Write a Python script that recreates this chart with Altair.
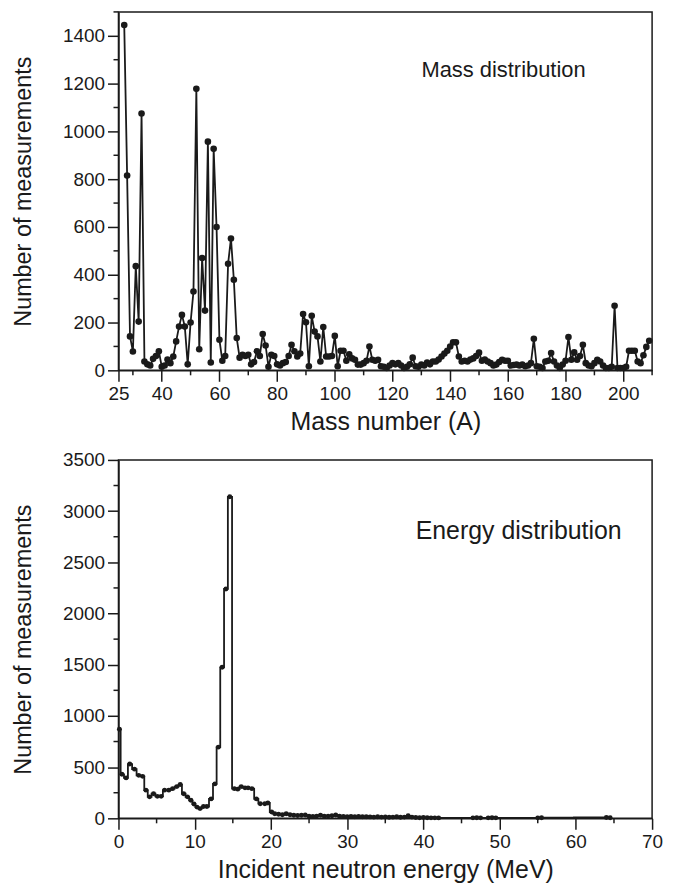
import altair as alt
import pandas as pd

# ---------------- data: mass distribution ----------------
mass_A = [27, 28, 29, 30, 31, 32, 33, 34, 35, 36, 37, 38, 39, 40, 41, 42, 43, 44, 45, 46,
          47, 48, 49, 50, 51, 52, 53, 54, 55, 56, 57, 58, 59, 60, 61, 62, 63, 64, 65, 66,
          67, 68, 69, 70, 71, 72, 73, 74, 75, 76, 77, 78, 79, 80, 81, 82, 83, 84, 85, 86,
          87, 88, 89, 90, 91, 92, 93, 94, 95, 96, 97, 98, 99, 100, 101, 102, 103, 104, 105, 106,
          107, 108, 109, 110, 111, 112, 113, 114, 115, 116, 117, 118, 119, 120, 121, 122, 123, 124, 125, 126,
          127, 128, 129, 130, 131, 132, 133, 134, 135, 136, 137, 138, 139, 140, 141, 142, 143, 144, 145, 146,
          147, 148, 149, 150, 151, 152, 153, 154, 155, 156, 157, 158, 159, 160, 161, 162, 163, 164, 165, 166,
          167, 168, 169, 170, 171, 172, 173, 174, 175, 176, 177, 178, 179, 180, 181, 182, 183, 184, 185, 186,
          187, 188, 189, 190, 191, 192, 193, 194, 195, 196, 197, 198, 199, 200, 201, 202, 203, 204, 205, 206,
          207, 208, 209]
mass_n = [1445, 815, 142, 79, 436, 204, 1075, 37, 25, 20, 48, 60, 80, 15, 20, 45, 30, 58, 121, 183,
          232, 183, 25, 200, 330, 1178, 88, 470, 250, 957, 33, 927, 600, 128, 40, 60, 446, 552, 379, 135,
          53, 65, 60, 65, 25, 35, 80, 60, 152, 104, 15, 65, 60, 25, 20, 30, 35, 60, 107, 80,
          58, 70, 236, 201, 17, 228, 162, 142, 37, 181, 58, 58, 60, 144, 17, 82, 82, 40, 67, 50,
          44, 24, 24, 30, 40, 100, 44, 40, 44, 17, 15, 10, 20, 30, 25, 30, 20, 10, 15, 25,
          53, 17, 15, 24, 20, 33, 25, 37, 37, 45, 58, 70, 82, 100, 117, 117, 58, 37, 40, 37,
          45, 50, 60, 74, 40, 45, 37, 30, 20, 24, 35, 44, 40, 40, 20, 22, 24, 20, 24, 17,
          20, 30, 132, 17, 15, 10, 37, 40, 72, 37, 20, 10, 24, 40, 139, 44, 75, 44, 60, 107,
          30, 20, 17, 30, 44, 37, 20, 10, 10, 15, 270, 10, 10, 10, 15, 82, 82, 82, 37, 30,
          63, 98, 124]

# ---------------- data: energy distribution ----------------
energy_E = [0.12, 0.45, 1.0, 1.48, 2.1, 2.65, 3.17, 3.6, 4.08, 4.6, 5.1, 5.6, 6.05, 6.6, 7.1,
            7.65, 8.1, 8.55, 9.05, 9.5, 9.9, 10.3, 10.7, 11.15, 11.6, 12.15, 12.65, 13.1, 13.6, 14.1,
            14.6, 15.2, 15.65, 16.1, 16.6, 17.0, 17.5, 18.1, 18.6, 19.2, 19.6, 20.1, 20.5, 21.0, 21.5,
            22.0, 22.5, 23.0, 23.5, 24.0, 24.5, 25.0, 25.5, 26.0, 26.5, 27.0, 27.5, 28.0, 28.5, 29.0,
            29.5, 30.0, 30.5, 31.0, 31.5, 32.0, 32.5, 33.0, 33.5, 34.0, 34.5, 35.0, 35.5, 36.0, 36.5,
            37.0, 37.5, 38.0, 38.5, 39.0, 39.5, 40.0, 40.5, 41.0, 41.5, 42.0, 46.5, 47.0, 47.5, 48.5,
            49.0, 49.5, 55.0, 55.5, 64.0, 64.5]
energy_n = [870, 430, 395, 530, 480, 420, 410, 275, 210, 240, 215, 215, 275, 275, 290,
            310, 330, 240, 210, 176, 140, 110, 95, 115, 115, 190, 336, 695, 1475, 2240,
            3140, 290, 285, 310, 298, 298, 290, 190, 143, 143, 150, 62, 45, 40, 35,
            45, 35, 30, 28, 30, 32, 20, 18, 22, 30, 20, 22, 25, 32, 20,
            18, 15, 18, 15, 18, 15, 16, 14, 12, 15, 12, 14, 10, 12, 15,
            10, 12, 25, 12, 8, 6, 8, 6, 5, 5, 4, 5, 6, 5, 5,
            6, 5, 5, 6, 8, 6]

# ---------------- axis ticks ----------------
mass_x_major = [25, 40, 60, 80, 100, 120, 140, 160, 180, 200]
mass_x_minor = [30, 50, 70, 90, 110, 130, 150, 170, 190, 210]
mass_y_major = [0, 200, 400, 600, 800, 1000, 1200, 1400]
mass_y_minor = [100, 300, 500, 700, 900, 1100, 1300, 1500]
en_x_major = [0, 10, 20, 30, 40, 50, 60, 70]
en_x_minor = [5, 15, 25, 35, 45, 55, 65]
en_y_major = [0, 500, 1000, 1500, 2000, 2500, 3000, 3500]
en_y_minor = [250, 750, 1250, 1750, 2250, 2750, 3250]

W = 536
H = 360
INK = "#1a1a1a"
FONT = "Liberation Sans"
MINOR = 5


def panel(df, xf, yf, xdom, ydom, xmaj, xmin, ymaj, ymin, xtitle, label, lx, ly,
          lsize, interp, psize):
    xs = alt.Scale(domain=xdom, nice=False, zero=False)
    ys = alt.Scale(domain=ydom, nice=False)
    xax = alt.Axis(values=xmaj, title=xtitle, labelFlush=False, format="d",
                   titleFontSize=25, titlePadding=6)
    yax = alt.Axis(values=ymaj, title="Number of measurements", format="d",
                   titleFontSize=23.5, titlePadding=27)
    base = alt.Chart(df)
    line = base.mark_line(color=INK, strokeWidth=1.8, interpolate=interp).encode(
        x=alt.X(f"{xf}:Q", scale=xs, axis=xax),
        y=alt.Y(f"{yf}:Q", scale=ys, axis=yax),
    )
    pts = base.mark_circle(color=INK, size=psize, opacity=1).encode(
        x=alt.X(f"{xf}:Q", scale=xs, axis=xax),
        y=alt.Y(f"{yf}:Q", scale=ys, axis=yax))
    xminor = alt.Chart(pd.DataFrame({"v": xmin})).mark_rule(
        color=INK, strokeWidth=1.5).encode(
        x=alt.X("v:Q", scale=xs, axis=xax),
        y=alt.value(H), y2=alt.value(H + MINOR))
    yminor = alt.Chart(pd.DataFrame({"v": ymin})).mark_rule(
        color=INK, strokeWidth=1.5).encode(
        y=alt.Y("v:Q", scale=ys, axis=yax),
        x=alt.value(-MINOR), x2=alt.value(0))
    txt = alt.Chart(pd.DataFrame({"t": [label]})).mark_text(
        font=FONT, fontSize=lsize, color=INK, align="center", baseline="middle").encode(
        x=alt.datum(lx), y=alt.datum(ly), text="t:N")
    return alt.layer(line, pts, xminor, yminor, txt).properties(
        width=W, height=H,
        view=alt.ViewBackground(stroke=INK, strokeWidth=1.5))


mass_df = pd.DataFrame({"A": mass_A, "n": mass_n})
en_df = pd.DataFrame({"E": energy_E, "n": energy_n})

top = panel(mass_df, "A", "n", [25, 210], [0, 1500], mass_x_major, mass_x_minor,
            mass_y_major, mass_y_minor, "Mass number (A)", "Mass distribution",
            158.5, 1255, 22, "linear", 44)
bottom = panel(en_df, "E", "n", [0, 70], [0, 3500], en_x_major, en_x_minor,
               en_y_major, en_y_minor, "Incident neutron energy (MeV)",
               "Energy distribution", 52.5, 2808, 25, "step", 24)

chart = alt.vconcat(top, bottom, spacing=15).properties(
    padding={"left": 10, "top": 8, "right": 10, "bottom": 2},
    background="white",
).configure_view(
    stroke=INK, strokeWidth=1.5
).configure_axis(
    grid=False, domainColor=INK, domainWidth=1.5, tickColor=INK, tickWidth=1.5,
    tickSize=11, labelFont=FONT, labelFontSize=19, labelColor=INK, labelPadding=3,
    titleFont=FONT, titleFontWeight="normal", titleColor=INK
)

chart.save("out.html", embed_options={"renderer": "svg", "actions": False})
